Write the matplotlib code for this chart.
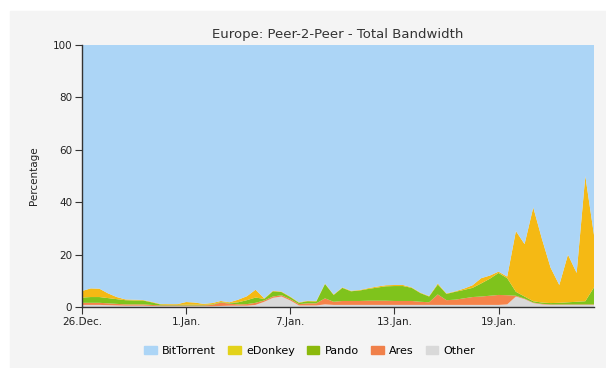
import matplotlib as mpl
mpl.use('Agg')
import matplotlib.pyplot as plt
import matplotlib.dates as mdates
import matplotlib.patches as mpatches
import numpy as np
import pandas as pd

# half-day samples starting 26 Dec
times = pd.date_range('2008-12-26', periods=60, freq='12h')

other = [0.8, 0.8, 0.8, 0.7, 0.6, 0.5, 0.5, 0.5, 0.4, 0.3,
         0.3, 0.3, 0.3, 0.3, 0.3, 0.3, 0.4, 0.5, 0.5, 0.5,
         0.8, 2.0, 3.5, 4.0, 2.5, 0.6, 0.6, 0.6, 1.0, 0.8,
         0.8, 0.8, 0.8, 0.8, 0.8, 0.8, 0.8, 0.8, 0.8, 0.8,
         0.8, 0.8, 0.8, 0.8, 0.8, 0.8, 0.8, 0.8, 0.8, 1.0,
         4.0, 3.0, 1.5, 1.0, 0.8, 0.8, 0.8, 0.8, 0.8, 0.8]
ares = [0.8, 0.8, 0.8, 0.7, 0.6, 0.5, 0.5, 0.5, 0.4, 0.3,
        0.3, 0.3, 0.3, 0.3, 0.3, 0.5, 1.3, 0.8, 0.5, 0.6,
        0.8, 0.5, 0.5, 0.5, 0.5, 0.5, 0.8, 0.8, 2.3, 1.2,
        1.5, 1.5, 1.5, 1.6, 1.6, 1.6, 1.5, 1.5, 1.5, 1.2,
        1.0, 4.0, 1.8, 2.0, 2.5, 3.0, 3.2, 3.5, 3.8, 3.5,
        0.3, 0.2, 0.2, 0.2, 0.2, 0.2, 0.2, 0.2, 0.2, 0.2]
pando = [2.0, 2.2, 2.2, 2.0, 1.8, 1.6, 1.5, 1.5, 1.0, 0.4,
         0.2, 0.2, 0.3, 0.3, 0.2, 0.2, 0.2, 0.2, 0.8, 1.5,
         2.0, 0.6, 2.0, 1.2, 0.8, 0.5, 0.8, 0.7, 5.5, 2.6,
         5.0, 3.7, 4.0, 4.5, 5.0, 5.5, 5.7, 5.7, 5.0, 3.3,
         2.2, 3.8, 2.4, 3.0, 3.2, 3.5, 5.0, 6.5, 8.4, 6.5,
         1.5, 0.8, 0.5, 0.5, 0.5, 0.6, 0.8, 1.0, 1.2, 6.5]
edonkey = [2.5, 3.3, 3.2, 1.8, 0.8, 0.3, 0.3, 0.2, 0.2, 0.2,
           0.3, 0.3, 1.0, 0.8, 0.4, 0.5, 0.4, 0.3, 1.0, 1.5,
           3.0, 0.2, 0.2, 0.2, 0.2, 0.2, 0.2, 0.2, 0.2, 0.2,
           0.2, 0.2, 0.2, 0.3, 0.4, 0.4, 0.4, 0.4, 0.2, 0.2,
           0.2, 0.4, 0.2, 0.2, 0.5, 1.0, 2.0, 1.2, 0.5, 0.6,
           23.2, 20.0, 35.8, 24.3, 13.5, 6.8, 18.2, 11.0, 47.8, 20.0]
bittorrent = 100 - (np.array(other) + np.array(ares)
                    + np.array(pando) + np.array(edonkey))

names = ['BitTorrent', 'eDonkey', 'Pando', 'Ares', 'Other']
colors = ['#acd5f6', '#f5b914', '#7fc31c', '#f5834a', '#d9d9d9']
swatch = ['#acd5f6', '#e3d21a', '#8bb90c', '#f0804a', '#d9d9d9']
tick_days = ['2008-12-26', '2009-01-01', '2009-01-07', '2009-01-13', '2009-01-19']

fig = plt.figure(figsize=(6.06, 3.68), dpi=100, facecolor='white')
fig.add_artist(mpatches.Rectangle((10 / 606, 0), 1, 1 - 11 / 368,
                                  transform=fig.transFigure,
                                  color='#f4f4f4', zorder=-10))
ax = fig.add_axes([82 / 606, 61 / 368, 512 / 606, 262 / 368])
ax.set_facecolor('none')

ax.stackplot(times, other, ares, pando, edonkey, bittorrent,
             colors=colors[::-1], linewidth=0)

ax.set_xlim(times[0], times[-1])
ax.set_ylim(0, 100)
ax.set_yticks([0, 20, 40, 60, 80, 100])
ax.set_xticks(pd.to_datetime(tick_days))
ax.xaxis.set_major_formatter(mdates.DateFormatter('%-d.%b.'))
for s in ['top', 'right']:
    ax.spines[s].set_visible(False)
for s in ['left', 'bottom']:
    ax.spines[s].set_color('#333333')
    ax.spines[s].set_linewidth(1.0)
ax.tick_params(length=5, width=0.8, color='#333333', labelsize=7.5,
               labelcolor='#222222', pad=2)

ax.set_ylabel('Percentage', fontsize=7.5, color='#222222', labelpad=10)
ax.set_title('Europe: Peer-2-Peer - Total Bandwidth', fontsize=9.5,
             color='#333333', pad=5)

handles = [mpatches.Patch(color=c, label=n) for n, c in zip(names, swatch)]
fig.legend(handles=handles, loc='center', bbox_to_anchor=(310 / 606, 1 - 351 / 368),
           ncol=5, frameon=False, fontsize=8, handlelength=1.1,
           handleheight=0.7, handletextpad=0.5, columnspacing=1.1)

fig.savefig('out.png', dpi=100)
